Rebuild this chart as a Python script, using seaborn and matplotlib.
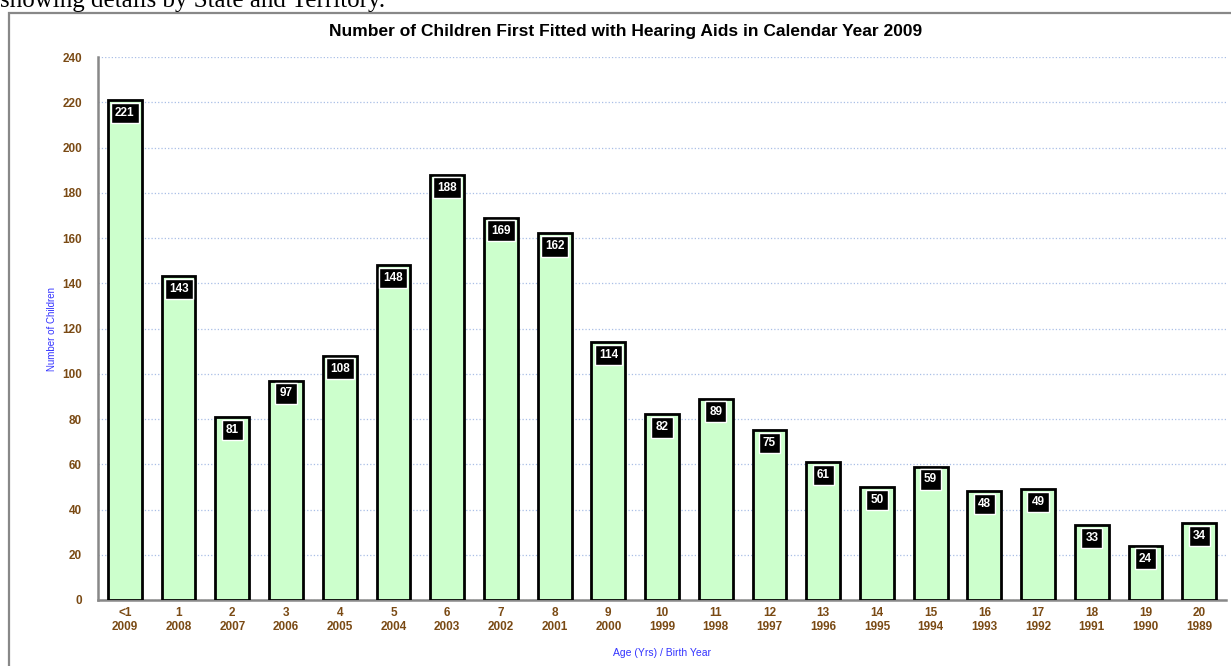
import matplotlib
matplotlib.use("Agg")
import matplotlib.pyplot as plt
import seaborn as sns
import pandas as pd
from matplotlib.patches import Rectangle

# --- Data ---
AGES = ["<1", "1", "2", "3", "4", "5", "6", "7", "8", "9", "10",
        "11", "12", "13", "14", "15", "16", "17", "18", "19", "20"]
BIRTH_YEARS = [str(y) for y in range(2009, 1988, -1)]
COUNTS = [221, 143, 81, 97, 108, 148, 188, 169, 162, 114, 82,
          89, 75, 61, 50, 59, 48, 49, 33, 24, 34]
Y_TICKS = list(range(0, 241, 20))

TITLE = "Number of Children First Fitted with Hearing Aids in Calendar Year 2009"
X_LABEL = "Age (Yrs) / Birth Year"
Y_LABEL = "Number of Children"
DOC_TEXT = "showing details by State and Territory."

BROWN = "#7A4A14"
BLUE = "#3333FF"

sns.set_style("white")
plt.rcParams["font.family"] = ["Liberation Sans", "DejaVu Sans"]

df = pd.DataFrame({"label": [f"{a}\n{y}" for a, y in zip(AGES, BIRTH_YEARS)],
                   "count": COUNTS})

fig = plt.figure(figsize=(12.31, 6.66), dpi=100)
ax = fig.add_axes([0.0796, 0.0991, 0.9164, 0.8153])

# surrounding document text (cut off at the top, as in the page) and frame
fig.text(0.0, 0.989, DOC_TEXT, fontsize=18, family="Liberation Serif",
         ha="left", va="baseline", color="black")
fig.patches.append(Rectangle((9 / 1231, -0.05), 1.2, (666 - 13) / 666 + 0.05,
                             transform=fig.transFigure, fill=False,
                             edgecolor="#888888", linewidth=1.6, zorder=0))

sns.barplot(data=df, x="label", y="count", color="#CCFFCC", saturation=1,
            edgecolor="black", linewidth=2, width=0.63, ax=ax, zorder=3)

for i, v in enumerate(COUNTS):
    ax.text(i, v - 5.7, str(v), ha="center", va="center", color="white",
            fontsize=8.5, fontweight="bold", zorder=5,
            bbox=dict(boxstyle="square,pad=0.35", facecolor="black",
                      edgecolor="white", linewidth=1))

ax.set_ylim(0, 240)
ax.set_xlim(-0.5, len(COUNTS) - 0.5)
ax.set_yticks(Y_TICKS)
ax.grid(axis="y", color="#A9BFE6", linestyle=":", linewidth=0.9, zorder=0)
ax.set_axisbelow(True)

ax.set_xticks(range(len(COUNTS)))
ax.set_xticks([i - 0.5 for i in range(len(COUNTS) + 1)], minor=True)
ax.tick_params(axis="x", which="major", length=0, pad=5, labelsize=8.5,
               labelcolor=BROWN)
ax.tick_params(axis="x", which="minor", length=4, width=1.5, color="#888888")
ax.tick_params(axis="y", length=4.5, width=1.5, color="#888888", pad=7,
               labelsize=8.5, labelcolor=BROWN)
for lbl in ax.get_xticklabels() + ax.get_yticklabels():
    lbl.set_fontweight("bold")
    lbl.set_linespacing(1.25)

for side in ["top", "right"]:
    ax.spines[side].set_visible(False)
for side in ["left", "bottom"]:
    ax.spines[side].set_color("#888888")
    ax.spines[side].set_linewidth(1.8)

ax.set_xlabel(X_LABEL, color=BLUE, fontsize=7.5, labelpad=11)
ax.set_ylabel(Y_LABEL, color=BLUE, fontsize=7, labelpad=4)

fig.text(0.508, 0.952, TITLE, ha="center", va="center", fontsize=12.5,
         fontweight="bold", color="black")

fig.savefig("out.png", dpi=100)
